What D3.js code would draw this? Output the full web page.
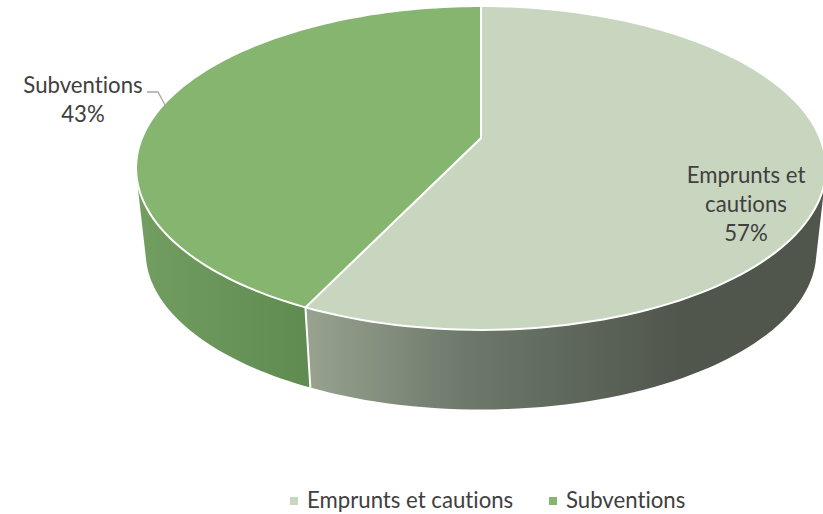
<!DOCTYPE html>
<html><head><meta charset="utf-8">
<script src="https://cdn.jsdelivr.net/npm/d3@7/dist/d3.min.js"></script>
<style>html,body{margin:0;background:#fff}svg{display:block}text{font-family:Lato,"Open Sans",sans-serif;fill:#404040;font-variant-ligatures:none}</style>
</head><body><svg id="c" width="823" height="514"></svg>
<script>
const categories = ["Emprunts et cautions", "Subventions"];
const values = [57.1, 42.9];
const percentLabels = ["57%", "43%"];
const topColors = ["#c8d6bf", "#86b56f"];
const wallStops = [
  [["0%","#98a28f"],["43%","#6d786b"],["100%","#50564b"]],
  [["0%","#729d61"],["100%","#5f8b50"]]
];
const wallExtents = [[307,680],[145,310]];

const svg = d3.select("#c");
const W = 339, B = 156.4, a = 0.185;
const top_ = {cx:481, cy:138, s:1};
const bot  = {cx:481, cy:223, s:0.972};
const tilt = d3.scaleLinear().domain([0,1]).range([0,a]);
function project(ang, f){
  const x = Math.sin(ang), y = Math.cos(ang);
  const d = 1 + tilt(1)*y;
  return [f.cx + f.s*W*x/d, f.cy - f.s*B*y/d];
}
const pie = d3.pie().sort(null).value(d=>d)(values);
const arcPts = (s,e,f)=>d3.range(0,121).map(i=>project(s+(e-s)*i/120,f));
const line = d3.line();

const defs = svg.append("defs");
wallStops.forEach((st,i)=>{
  const g = defs.append("linearGradient").attr("id","w"+i).attr("gradientUnits","userSpaceOnUse")
    .attr("x1",wallExtents[i][0]).attr("x2",wallExtents[i][1]).attr("y1",0).attr("y2",0);
  st.forEach(s=>g.append("stop").attr("offset",s[0]).attr("stop-color",s[1]));
});

// walls: the rim swept down as consistently wound quads, so the silhouette follows the tangent edges
pie.forEach((p,i)=>{
  const t = arcPts(p.startAngle,p.endAngle,top_);
  const b = arcPts(p.startAngle,p.endAngle,bot);
  const d = d3.range(t.length-1).map(k=>{
    const q = [t[k],t[k+1],b[k+1],b[k]];
    if (d3.polygonArea(q) < 0) q.reverse();
    return line(q)+"Z";
  }).join("");
  svg.append("path").attr("d",d).attr("fill","url(#w"+i+")").attr("fill-rule","nonzero");
});
const seam = pie[0].endAngle;
svg.append("path").attr("d",line([project(seam,top_),project(seam,bot)]))
  .attr("stroke","#fff").attr("stroke-width",2).attr("fill","none");

pie.forEach((p,i)=>{
  const pts = [[top_.cx,top_.cy]].concat(arcPts(p.startAngle,p.endAngle,top_));
  svg.append("path").attr("d",line(pts)+"Z").attr("fill",topColors[i])
    .attr("stroke","#fff").attr("stroke-width",2).attr("stroke-linejoin","round");
});

const fs = 22.2;
function label(lines,x,y0,lh){
  lines.forEach((t,i)=>svg.append("text").attr("x",x).attr("y",y0+i*lh).attr("text-anchor","middle").attr("font-size",fs).text(t));
}
label(["Emprunts et","cautions",percentLabels[0]],746,183,29);
label([categories[1],percentLabels[1]],83,93,29);
svg.append("path").attr("d","M147,92H158L165,105").attr("fill","none").attr("stroke","#a6a6a6").attr("stroke-width",1.3);

const legendX = [290,549], legendTextX = [307,566];
categories.forEach((c,i)=>{
  svg.append("rect").attr("x",legendX[i]).attr("y",497).attr("width",8).attr("height",8).attr("fill",topColors[i]);
  svg.append("text").attr("x",legendTextX[i]).attr("y",508).attr("font-size",fs).text(c);
});
</script></body></html>
